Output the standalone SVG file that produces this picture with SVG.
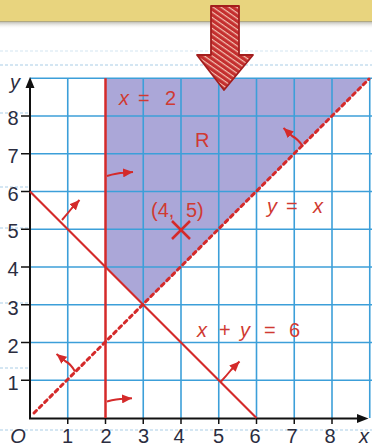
<svg xmlns="http://www.w3.org/2000/svg" width="372" height="446" viewBox="0 0 372 446">
<defs>
<linearGradient id="shadow" x1="0" y1="0" x2="0" y2="1">
<stop offset="0" stop-color="#8c8a7a" stop-opacity="0.7"/>
<stop offset="1" stop-color="#ffffff" stop-opacity="0"/>
</linearGradient>
<pattern id="hatch" width="4.5" height="4.5" patternUnits="userSpaceOnUse" patternTransform="rotate(35)">
<rect width="4.5" height="4.5" fill="#c42f2f"/>
<rect width="4.5" height="1.2" fill="#f3c0b0"/>
</pattern>
<marker id="ah" viewBox="0 0 10 9" refX="10" refY="4.5" markerWidth="10" markerHeight="9" markerUnits="userSpaceOnUse" orient="auto">
<path d="M0,0 L10,4.5 L0,9 z" fill="#d42a2a"/>
</marker>
</defs>
<style>
.grid line{stroke:#3c9fd9;stroke-width:1.6}
.note{stroke:#a9cde6;stroke-width:1;stroke-dasharray:3 2;fill:none}
.red{stroke:#d42a2a;fill:none}
.arr{stroke:#d42a2a;stroke-width:2;fill:none;marker-end:url(#ah)}
.tick{font-family:"Liberation Sans",Arial,sans-serif;font-size:20px;fill:#2b2d3f;text-anchor:middle}
.lab{font-family:"Liberation Sans",Arial,sans-serif;font-size:20px;fill:#d03a32}
.it{font-style:italic}
</style>
<rect width="372" height="446" fill="#ffffff"/>
<g id="banner">
<rect x="0" y="0" width="372" height="22" fill="#e8d47e"/>
<rect x="0" y="21" width="372" height="8" fill="url(#shadow)"/>
</g>
<g id="paper-lines">
<line class="note" x1="0" y1="51" x2="372" y2="51" opacity="0.5"/>
<line class="note" x1="0" y1="65" x2="372" y2="65"/>
<line class="note" x1="0" y1="430" x2="372" y2="430"/>
<line class="note" x1="0" y1="113" x2="28" y2="113"/>
<line class="note" x1="0" y1="187" x2="28" y2="187"/>
<line class="note" x1="0" y1="228" x2="28" y2="228"/>
<line class="note" x1="0" y1="303" x2="28" y2="303"/>
<line class="note" x1="0" y1="368" x2="28" y2="368"/>
</g>
<g id="region-R">
<polygon points="105.5,78.25 369.75,78.25 143.25,304.75 105.5,267" fill="#aba7d8"/>
</g>
<g id="grid" class="grid">
<line x1="67.75" y1="78.25" x2="67.75" y2="418"/>
<line x1="143.25" y1="78.25" x2="143.25" y2="418"/>
<line x1="181" y1="78.25" x2="181" y2="418"/>
<line x1="218.75" y1="78.25" x2="218.75" y2="418"/>
<line x1="256.5" y1="78.25" x2="256.5" y2="418"/>
<line x1="294.25" y1="78.25" x2="294.25" y2="418"/>
<line x1="332" y1="78.25" x2="332" y2="418"/>
<line x1="369.75" y1="78.25" x2="369.75" y2="418"/>
<line x1="30" y1="380.25" x2="372" y2="380.25"/>
<line x1="30" y1="342.5" x2="372" y2="342.5"/>
<line x1="30" y1="304.75" x2="372" y2="304.75"/>
<line x1="30" y1="267" x2="372" y2="267"/>
<line x1="30" y1="229.25" x2="372" y2="229.25"/>
<line x1="30" y1="191.5" x2="372" y2="191.5"/>
<line x1="30" y1="153.75" x2="372" y2="153.75"/>
<line x1="30" y1="116" x2="372" y2="116"/>
<line x1="30" y1="78.25" x2="372" y2="78.25"/>
</g>
<g id="pointer-arrow">
<path d="M211,6 L239,6 L239,55 L253,55 L224,90 L197,55 L211,55 Z" fill="url(#hatch)" stroke="#a31e1e" stroke-width="1.8" stroke-linejoin="round"/>
</g>
<g id="axes">
<line x1="30" y1="418.5" x2="30" y2="86" stroke="#111" stroke-width="2"/>
<polygon points="30,77 25.5,88 34.5,88" fill="#111"/>
<line x1="29" y1="418.5" x2="358" y2="418.5" stroke="#111" stroke-width="2"/>
<polygon points="368.5,418.5 357,414 357,423" fill="#111"/>
<g stroke="#111" stroke-width="1.5">
<line x1="21" y1="116" x2="30" y2="116"/>
<line x1="21" y1="153.75" x2="30" y2="153.75"/>
<line x1="21" y1="191.5" x2="30" y2="191.5"/>
<line x1="21" y1="229.25" x2="30" y2="229.25"/>
<line x1="21" y1="267" x2="30" y2="267"/>
<line x1="21" y1="304.75" x2="30" y2="304.75"/>
<line x1="21" y1="342.5" x2="30" y2="342.5"/>
<line x1="21" y1="380.25" x2="30" y2="380.25"/>
<line x1="67.75" y1="418" x2="67.75" y2="424"/>
<line x1="105.5" y1="418" x2="105.5" y2="424"/>
<line x1="143.25" y1="418" x2="143.25" y2="424"/>
<line x1="181" y1="418" x2="181" y2="424"/>
<line x1="218.75" y1="418" x2="218.75" y2="424"/>
<line x1="256.5" y1="418" x2="256.5" y2="424"/>
<line x1="294.25" y1="418" x2="294.25" y2="424"/>
<line x1="332" y1="418" x2="332" y2="424"/>
</g>
</g>
<g id="axis-labels">
<text class="tick it" x="15" y="89">y</text>
<text class="tick" x="13" y="125">8</text>
<text class="tick" x="13" y="163">7</text>
<text class="tick" x="13" y="201">6</text>
<text class="tick" x="13" y="238">5</text>
<text class="tick" x="13" y="276">4</text>
<text class="tick" x="13" y="315">3</text>
<text class="tick" x="13" y="353">2</text>
<text class="tick" x="13" y="390">1</text>
<text class="tick it" x="18" y="443">O</text>
<text class="tick" x="67.5" y="443">1</text>
<text class="tick" x="106" y="443">2</text>
<text class="tick" x="143.5" y="443">3</text>
<text class="tick" x="179" y="443">4</text>
<text class="tick" x="218.5" y="443">5</text>
<text class="tick" x="255" y="443">6</text>
<text class="tick" x="292" y="443">7</text>
<text class="tick" x="330" y="443">8</text>
<text class="tick it" x="364" y="443">x</text>
</g>
<g id="connectors">
<line id="line-x2" class="red" x1="105.5" y1="78.25" x2="105.5" y2="418" stroke-width="2.5"/>
<line id="line-xy6" class="red" x1="30" y1="191.5" x2="256.5" y2="418" stroke-width="2.2"/>
<line id="line-yx" class="red" x1="34" y1="413" x2="369" y2="79" stroke-width="3" stroke-dasharray="3.5 4" stroke-linecap="round"/>
<path class="arr" d="M107,176 Q117,173 124,172.8 L133,172"/>
<path class="arr" d="M107,401.5 Q117,399 124,398.8 L132,398.3"/>
<path class="arr" d="M62,220 Q68,213 72,208 L79.5,200"/>
<path class="arr" d="M221,381.5 Q227,375 231,370 L239.5,361.5"/>
<path class="arr" d="M303,146.5 Q298,139 292,136 L283.5,128"/>
<path class="arr" d="M75,371.5 Q71,364 65,361 L56.5,354"/>
</g>
<g id="point-45">
<line class="red" x1="172" y1="221" x2="190" y2="239" stroke-width="2.5"/>
<line class="red" x1="190" y1="221" x2="172" y2="239" stroke-width="2.5"/>
<text class="lab" x="151" y="217">(4,</text>
<text class="lab" x="186" y="217">5)</text>
</g>
<g id="labels">
<text class="lab"><tspan class="it" x="119" y="105">x</tspan><tspan x="138" y="105">=</tspan><tspan x="165" y="105">2</tspan></text>
<text class="lab" x="195" y="147">R</text>
<text class="lab"><tspan class="it" x="267" y="213">y</tspan><tspan x="286" y="213">=</tspan><tspan class="it" x="313" y="213">x</tspan></text>
<text class="lab"><tspan class="it" x="197" y="337">x</tspan><tspan x="219" y="337">+</tspan><tspan class="it" x="240" y="337">y</tspan><tspan x="264" y="337">=</tspan><tspan x="289" y="337">6</tspan></text>
</g>
</svg>
